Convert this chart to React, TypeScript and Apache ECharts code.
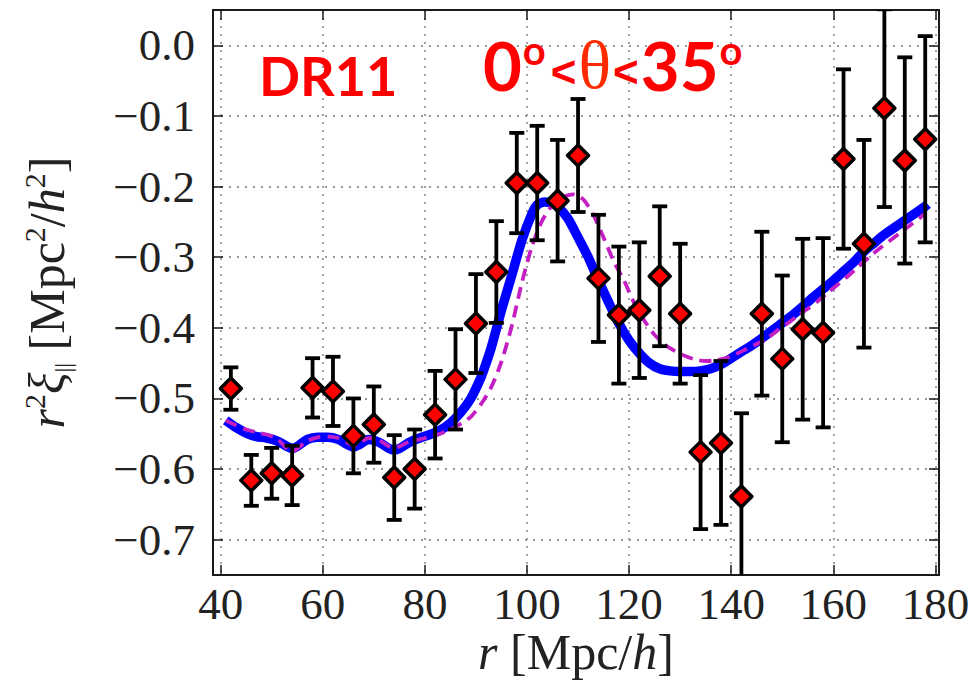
import React, { useEffect, useRef } from "react";
import * as echarts from "echarts";

// Axis ticks
const X_TICKS = [40, 60, 80, 100, 120, 140, 160, 180];
const Y_TICKS = [0, -0.1, -0.2, -0.3, -0.4, -0.5, -0.6, -0.7];

// Measured points: separation r, r^2 xi_|| and its 1-sigma error
const R = [
  42, 46, 50, 54, 58, 62, 66, 70, 74, 78, 82, 86, 90, 94, 98, 102, 106, 110,
  114, 118, 122, 126, 130, 134, 138, 142, 146, 150, 154, 158, 162, 166, 170,
  174, 178,
];
const XI = [
  -0.486, -0.616, -0.606, -0.609, -0.485, -0.49, -0.553, -0.537, -0.612, -0.6,
  -0.523, -0.473, -0.394, -0.321, -0.195, -0.195, -0.22, -0.156, -0.33, -0.382,
  -0.375, -0.327, -0.38, -0.576, -0.563, -0.639, -0.38, -0.444, -0.402, -0.407,
  -0.161, -0.281, -0.089, -0.163, -0.133,
];
const ERR = [
  0.03, 0.036, 0.036, 0.042, 0.042, 0.049, 0.053, 0.054, 0.06, 0.056, 0.062,
  0.071, 0.07, 0.072, 0.071, 0.081, 0.086, 0.08, 0.09, 0.097, 0.096, 0.099,
  0.099, 0.109, 0.116, 0.118, 0.116, 0.118, 0.128, 0.134, 0.127, 0.147, 0.14,
  0.146, 0.146,
];

// Best-fit model (solid blue)
const FIT_R = [
  41, 43, 45, 47, 49, 51, 53, 54, 55, 57, 59, 61, 63, 65, 66, 67, 69, 71, 73,
  74, 75, 77, 79, 81, 83, 85, 87, 89, 91, 92, 93, 95, 97, 99, 101, 102, 103.5,
  105, 106, 108, 110, 112, 114, 116, 118, 120, 122, 124, 126, 128, 130, 132,
  134, 136, 138, 140, 142, 144, 146, 148, 150, 152, 154, 156, 158, 160, 162,
  164, 166, 168, 170, 172, 174, 176, 178, 178.5,
];
const FIT_XI = [
  -0.531, -0.541, -0.549, -0.554, -0.556, -0.56, -0.568, -0.571, -0.568,
  -0.558, -0.555, -0.555, -0.558, -0.566, -0.569, -0.566, -0.558, -0.562,
  -0.571, -0.573, -0.571, -0.562, -0.556, -0.551, -0.545, -0.535, -0.52, -0.5,
  -0.47, -0.45, -0.428, -0.375, -0.326, -0.276, -0.238, -0.226, -0.222,
  -0.224, -0.228, -0.245, -0.272, -0.3, -0.333, -0.364, -0.394, -0.418,
  -0.436, -0.45, -0.458, -0.461, -0.462, -0.462, -0.461, -0.458, -0.452,
  -0.443, -0.434, -0.425, -0.415, -0.404, -0.393, -0.382, -0.37, -0.357,
  -0.345, -0.333, -0.32, -0.307, -0.292, -0.28, -0.268, -0.258, -0.248,
  -0.238, -0.228, -0.225,
];

// Fiducial model (dashed magenta)
const FID_R = [
  41, 43, 45, 47, 49, 51, 53, 54, 55, 57, 59, 61, 63, 65, 66, 67, 69, 71, 73,
  74, 75, 77, 79, 81, 83, 85, 87, 89, 91, 93, 95, 97, 99, 101, 103, 105, 107,
  109, 111, 113, 115, 117, 119, 121, 123, 125, 127, 129, 131, 133, 135, 137,
  139, 141, 143, 145, 147, 149, 151, 153, 155, 157, 159, 161, 163, 165, 167,
  169, 171, 173, 175, 177, 178,
];
const FID_XI = [
  -0.531, -0.538, -0.544, -0.548, -0.551, -0.557, -0.571, -0.575, -0.571,
  -0.56, -0.555, -0.554, -0.556, -0.563, -0.567, -0.564, -0.556, -0.559,
  -0.568, -0.57, -0.568, -0.561, -0.558, -0.554, -0.55, -0.544, -0.536,
  -0.526, -0.508, -0.484, -0.448, -0.398, -0.336, -0.284, -0.248, -0.226,
  -0.215, -0.211, -0.218, -0.24, -0.272, -0.306, -0.333, -0.365, -0.39, -0.41,
  -0.424, -0.433, -0.44, -0.445, -0.447, -0.446, -0.443, -0.437, -0.43,
  -0.423, -0.415, -0.404, -0.394, -0.383, -0.373, -0.362, -0.35, -0.338,
  -0.326, -0.313, -0.3, -0.288, -0.277, -0.266, -0.255, -0.244, -0.238,
];

const X_MIN = 38.5;
const X_MAX = 180.7;
const Y_MIN = -0.75;
const Y_MAX = 0.05;

const SERIF = "'Liberation Serif', 'DejaVu Serif', serif";
const HAND = "Lato, 'Noto Sans', sans-serif";
const SANS = "'Liberation Sans', Arial, sans-serif";
const INK = "#1a1a1a";

const fmtY = (v: number) =>
  Math.abs(v) < 1e-9 ? "0.0" : "\u2212" + Math.abs(v).toFixed(1);

function frameAxis(position: string, extra: any = {}) {
  return {
    type: "value",
    position,
    axisLine: { show: true, onZero: false, lineStyle: { color: INK, width: 2 } },
    axisTick: {
      show: true,
      inside: true,
      length: 10,
      lineStyle: { color: INK, width: 1.5 },
    },
    axisLabel: { show: false },
    splitLine: { show: false },
    ...extra,
  };
}

export default function App() {
  const ref = useRef<HTMLDivElement>(null);

  useEffect(() => {
    const chart = echarts.init(ref.current!, null, { renderer: "svg" });

    const gridDots = { color: "#9a9a9a", width: 1.8, type: [2, 6] as any };

    const option: any = {
      animation: false,
      backgroundColor: "#ffffff",
      grid: {
        left: 213,
        right: 31,
        top: 10,
        bottom: 111,
        containLabel: false,
        outerBoundsMode: "none",
      },
      xAxis: [
        frameAxis("bottom", {
          min: X_MIN,
          max: X_MAX,
          axisTick: {
            show: true,
            inside: true,
            length: 10,
            customValues: X_TICKS,
            lineStyle: { color: INK, width: 1.5 },
          },
          axisLabel: {
            show: true,
            customValues: X_TICKS,
            fontFamily: SERIF,
            fontSize: 45,
            color: "#222",
            margin: 6,
          },
          splitLine: { show: true, lineStyle: gridDots },
          name: "{i|r} [Mpc/{i|h}]",
          nameLocation: "middle",
          nameGap: 52,
          nameMoveOverlap: false,
          nameTextStyle: {
            fontFamily: SERIF,
            fontSize: 50,
            color: "#222",
            rich: {
              i: { fontFamily: SERIF, fontStyle: "italic", fontSize: 50, color: "#222" },
            },
          },
        }),
        frameAxis("top", {
          min: X_MIN,
          max: X_MAX,
          axisTick: {
            show: true,
            inside: true,
            length: 10,
            customValues: X_TICKS,
            lineStyle: { color: INK, width: 1.5 },
          },
        }),
      ],
      yAxis: [
        frameAxis("left", {
          min: Y_MIN,
          max: Y_MAX,
          axisTick: {
            show: true,
            inside: true,
            length: 10,
            customValues: Y_TICKS,
            lineStyle: { color: INK, width: 1.5 },
          },
          axisLabel: {
            show: true,
            customValues: Y_TICKS,
            formatter: fmtY,
            fontFamily: SERIF,
            fontSize: 45,
            color: "#222",
            margin: 18,
          },
          splitLine: { show: true, lineStyle: gridDots },
          name:
            "{i|r}{sup|2}{i|\u03be}{sub|||} {n|[Mpc}{sup|2}{n|/}{i|h}{sup|2}{n|]}",
          nameLocation: "middle",
          nameRotate: 90,
          nameGap: 138,
          nameMoveOverlap: false,
          nameTextStyle: {
            fontFamily: SERIF,
            fontSize: 50,
            color: "#222",
            rich: {
              n: { fontFamily: SERIF, fontSize: 50, color: "#222", lineHeight: 56 },
              i: {
                fontFamily: SERIF,
                fontStyle: "italic",
                fontSize: 50,
                color: "#222",
                lineHeight: 56,
              },
              sup: {
                fontFamily: SERIF,
                fontSize: 30,
                color: "#222",
                verticalAlign: "top",
                lineHeight: 30,
              },
              sub: {
                fontFamily: SERIF,
                fontSize: 24,
                color: "#222",
                verticalAlign: "bottom",
                lineHeight: 24,
              },
            },
          },
        }),
        frameAxis("right", {
          min: Y_MIN,
          max: Y_MAX,
          axisTick: {
            show: true,
            inside: true,
            length: 10,
            customValues: Y_TICKS,
            lineStyle: { color: INK, width: 1.5 },
          },
        }),
      ],
      series: [
        {
          name: "fit",
          type: "line",
          xAxisIndex: 0,
          yAxisIndex: 0,
          data: FIT_R.map((r, i) => [r, FIT_XI[i]]),
          symbol: "none",
          smooth: 0.25,
          lineStyle: { color: "#0000ff", width: 9.5 },
          z: 2,
        },
        {
          name: "fiducial",
          type: "line",
          xAxisIndex: 0,
          yAxisIndex: 0,
          data: FID_R.map((r, i) => [r, FID_XI[i]]),
          symbol: "none",
          smooth: 0.25,
          lineStyle: { color: "#c31fc3", width: 3.8, type: [12, 7] },
          z: 3,
        },
        {
          name: "errors",
          type: "custom",
          xAxisIndex: 0,
          yAxisIndex: 0,
          clip: true,
          data: R.map((r, i) => [r, XI[i] - ERR[i], XI[i] + ERR[i]]),
          encode: { x: 0, y: [1, 2] },
          renderItem: (_params: any, api: any) => {
            const x = api.value(0);
            const lo = api.coord([x, api.value(1)]);
            const hi = api.coord([x, api.value(2)]);
            const hw = 7.5;
            const style = { stroke: "#000", lineWidth: 3.8 };
            return {
              type: "group",
              children: [
                { type: "line", shape: { x1: hi[0], y1: hi[1], x2: lo[0], y2: lo[1] }, style },
                { type: "line", shape: { x1: hi[0] - hw, y1: hi[1], x2: hi[0] + hw, y2: hi[1] }, style },
                { type: "line", shape: { x1: lo[0] - hw, y1: lo[1], x2: lo[0] + hw, y2: lo[1] }, style },
              ],
            };
          },
          z: 4,
        },
        {
          name: "data",
          type: "scatter",
          xAxisIndex: 0,
          yAxisIndex: 0,
          data: R.map((r, i) => [r, XI[i]]),
          symbol: "diamond",
          symbolSize: 21,
          itemStyle: {
            color: "#ff0000",
            borderColor: "#000",
            borderWidth: 3.5,
            borderJoin: "round",
            opacity: 1,
          },
          z: 5,
        },
      ],
      graphic: [
        {
          type: "text",
          left: 259,
          top: 48,
          z: 10,
          style: {
            text: "DR11",
            font: `bold 54px ${HAND}`,
            fill: "#ff0000",
          },
        },
        {
          type: "text",
          left: 483,
          top: 30,
          z: 10,
          style: {
            text: "{d|0}{deg|o}{lt|<}{th|\u03b8}{lt|<}{d|35}{deg|o}",
            rich: {
              d: { fontFamily: HAND, fontWeight: "bold", fontSize: 67, fill: "#ff0000", lineHeight: 70 },
              deg: {
                fontFamily: HAND,
                fontWeight: "bold",
                fontSize: 40,
                fill: "#ff0000",
                verticalAlign: "top",
                lineHeight: 40,
                padding: [0, 3, 0, 1],
              },
              lt: {
                fontFamily: SANS,
                fontWeight: "bold",
                fontSize: 44,
                fill: "#ff0000",
                padding: [12, 2, 0, 2],
              },
              th: { fontFamily: SERIF, fontSize: 68, fill: "#ff2a00", lineHeight: 70 },
            },
          },
        },
      ],
    };

    chart.setOption(option);
    return () => chart.dispose();
  }, []);

  return (
    <div
      ref={ref}
      style={{ position: "fixed", left: 0, top: 0, width: 970, height: 686, background: "#fff" }}
    />
  );
}
